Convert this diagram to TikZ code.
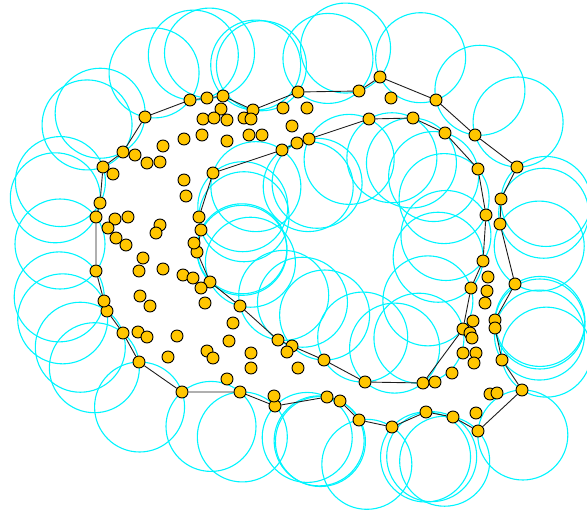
\documentclass[tikz,border=0pt]{standalone}
\usetikzlibrary{calc}
\pgfdeclarelayer{bg}
\pgfdeclarelayer{mid}
\pgfsetlayers{bg,mid,main}
\definecolor{ringc}{RGB}{0,245,255}
\definecolor{dotc}{RGB}{255,198,0}
\definecolor{edgec}{RGB}{30,30,30}
\tikzset{
  dot/.style={circle,draw=black,fill=dotc,line width=0.9pt,minimum size=12pt,inner sep=0pt},
  ring/.style={draw=ringc,line width=1.1pt},
  hull/.style={draw=edgec,line width=0.9pt}
}
\begin{document}
\begin{tikzpicture}[x=1pt,y=-1pt]
\useasboundingbox (0,0) rectangle (587,512);
% outer boundary points
\foreach \n/\x/\y in {o1/380/77,o2/436/100,o3/475/135,o4/517/167,o5/501/199,o6/500/224,o7/515/284,o8/495/320,o9/495/328,o10/502/360,o11/522/390,o12/478/431,o13/453/417,o14/426/412,o15/392/427,o16/359/420,o17/340/401,o18/327/397,o19/275/406,o20/240/392,o21/182/392,o22/139/362,o23/123/333,o24/107/311,o25/104/301,o26/96/271,o27/96/217,o28/100/203,o29/103/167,o30/123/152,o31/145/117,o32/190/100,o33/207/98,o34/223/96,o35/253/110,o36/298/92,o37/359/91}
  {\node[dot] (\n) at (\x,\y) {};}
% inner boundary points
\foreach \n/\x/\y in {i1/213/173,i2/199/217,i3/201/230,i4/197/252,i5/210/282,i6/240/306,i7/278/340,i8/292/346,i9/324/360,i10/365/382,i11/423/383,i12/463/329,i13/471/288,i14/483/261,i15/486/215,i16/478/169,i17/445/133,i18/413/118,i19/369/119,i20/309/139,i21/297/143,i22/282/150}
  {\node[dot] (\n) at (\x,\y) {};}
% other points
\foreach \n/\x/\y in {q1/221/109,q2/203/119,q3/214/118,q4/227/120,q5/244/118,q6/251/119,q7/184/139,q8/202/135,q9/227/141,q10/249/135,q11/262/135,q12/283/108,q13/307/108,q14/292/126,q15/391/98,q16/135/155,q17/147/163,q18/160/162,q19/163/146,q20/113/174,q21/184/180,q22/186/196,q23/115/219,q24/128/217,q25/108/228,q26/116/238,q27/126/245,q28/160/225,q29/156/233,q30/143/258,q31/139/271,q32/163/269,q33/194/243,q34/183/275,q35/193/278,q36/201/288,q37/205/303,q38/233/323,q39/229/341,q40/140/296,q41/150/306,q42/138/332,q43/147/337,q44/177/336,q45/168/357,q46/207/351,q47/213/358,q48/251/353,q49/251/368,q50/227/379,q51/274/396,q52/287/352,q53/298/368,q54/488/277,q55/487/291,q56/485/303,q57/473/321,q58/470/333,q59/472/338,q60/463/353,q61/476/353,q62/474/363,q63/452/373,q64/435/382,q65/490/394,q66/497/393,q67/476/413}
  {\node[dot] (\n) at (\x,\y) {};}
% circles through the boundary edges
\begin{pgfonlayer}{bg}
\foreach \a/\b in {o1/o2,o2/o3,o3/o4,o4/o5,o5/o6,o6/o7,o7/o8,o8/o9,o9/o10,o10/o11,o11/o12,o12/o13,o13/o14,o14/o15,o15/o16,o16/o17,o17/o18,o18/o19,o19/o20,o20/o21,o21/o22,o22/o23,o23/o24,o24/o25,o25/o26,o26/o27,o27/o28,o28/o29,o29/o30,o30/o31,o31/o32,o32/o33,o33/o34,o34/o35,o35/o36,o36/o37,o37/o1,i1/i2,i2/i3,i3/i4,i4/i5,i5/i6,i6/i7,i7/i8,i8/i9,i9/i10,i10/i11,i11/i12,i12/i13,i13/i14,i14/i15,i15/i16,i16/i17,i17/i18,i18/i19,i19/i20,i20/i21,i21/i22,i22/i1}
{
  \draw[ring] let \p1=(\a.center), \p2=(\b.center),
     \n1={veclen(\x2-\x1,\y2-\y1)/2},
     \n2={sqrt(max(2025-\n1*\n1,1))} in
     ($(\a.center)!0.5!(\b.center)!\n2!90:(\b.center)$) circle[radius=45pt];
}
\end{pgfonlayer}
\begin{pgfonlayer}{mid}
\draw[hull] (o1)--(o2)--(o3)--(o4)--(o5)--(o6)--(o7)--(o8)--(o9)--(o10)--(o11)--(o12)--(o13)--(o14)--(o15)--(o16)--(o17)--(o18)--(o19)--(o20)--(o21)--(o22)--(o23)--(o24)--(o25)--(o26)--(o27)--(o28)--(o29)--(o30)--(o31)--(o32)--(o33)--(o34)--(o35)--(o36)--(o37)--(o1);
\draw[hull] (i1)--(i2)--(i3)--(i4)--(i5)--(i6)--(i7)--(i8)--(i9)--(i10)--(i11)--(i12)--(i13)--(i14)--(i15)--(i16)--(i17)--(i18)--(i19)--(i20)--(i21)--(i22)--(i1);
\end{pgfonlayer}
\end{tikzpicture}
\end{document}
